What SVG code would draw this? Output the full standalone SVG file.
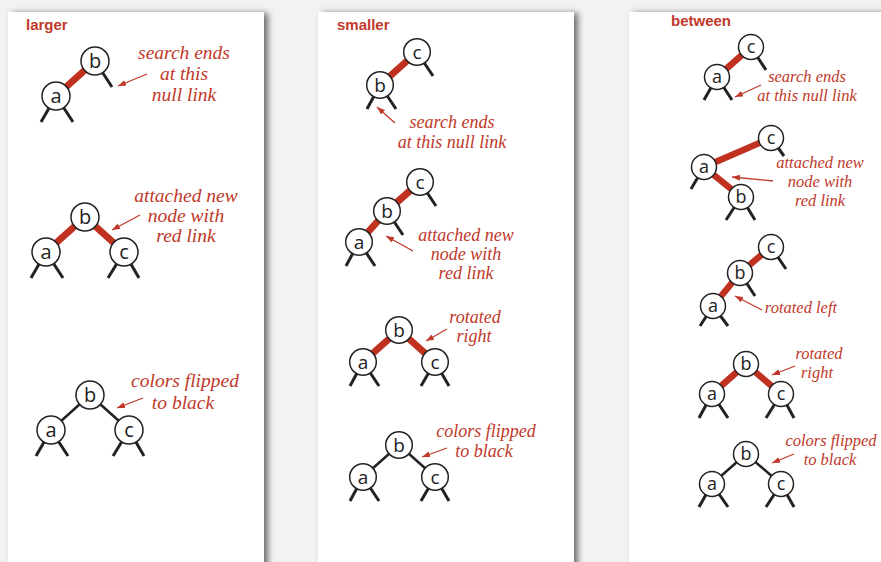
<svg xmlns="http://www.w3.org/2000/svg" width="881" height="562" viewBox="0 0 881 562">
<style>
.pnl{fill:#fff;filter:url(#sh)}
.hdr{font-family:"Liberation Sans",Arial,sans-serif;font-weight:bold;font-size:15px;fill:#c0392b}
.nd circle{fill:#fff;stroke:#222;stroke-width:1.5}
.nd text{font-family:"Open Sans","DejaVu Sans",sans-serif;fill:#222;text-anchor:middle}
.p1 text{font-size:20px}.p2 text{font-size:19px}.p3 text{font-size:18px}
.red{stroke:#c0311f;stroke-width:7}
.red3{stroke:#c0311f;stroke-width:6.5}
.blk{stroke:#222;stroke-width:2.5}
.nul{stroke:#222;stroke-width:3}
.lbl{font-family:"Liberation Serif","Times New Roman",serif;font-style:italic;fill:#c0392b;text-anchor:middle}
.l1{font-size:19.5px}.l2{font-size:18px}.l3{font-size:16.5px}
.arr{stroke:#c0392b;stroke-width:1.3;fill:none;marker-end:url(#ah)}
</style>
<defs>
<filter id="sh" x="-10%" y="-10%" width="130%" height="130%">
<feDropShadow dx="4" dy="1" stdDeviation="3" flood-color="#000" flood-opacity="0.55"/>
</filter>
<marker id="ah" markerUnits="userSpaceOnUse" markerWidth="10" markerHeight="8" refX="8" refY="3" orient="auto">
<path d="M0,0 L8,3 L0,6 z" fill="#c0392b"/>
</marker>
</defs>
<rect x="0" y="0" width="881" height="562" fill="#f2f2f2"/>
<rect class="pnl" x="8" y="12" width="256" height="570"/>
<rect class="pnl" x="318" y="12" width="256" height="570"/>
<rect class="pnl" x="629" y="12" width="270" height="570"/>
<text class="hdr" x="26" y="30">larger</text>
<text class="hdr" x="337" y="30">smaller</text>
<text class="hdr" x="671" y="26">between</text>

<g id="connectors">
<line class="red" x1="56" y1="96" x2="95" y2="61"/>
<line class="nul" x1="56" y1="96" x2="41" y2="122"/>
<line class="nul" x1="56" y1="96" x2="73" y2="122"/>
<line class="nul" x1="95" y1="61" x2="112" y2="87"/>

<line class="red" x1="85" y1="217" x2="46" y2="252"/>
<line class="red" x1="85" y1="217" x2="124" y2="252"/>
<line class="nul" x1="46" y1="252" x2="31" y2="278"/>
<line class="nul" x1="46" y1="252" x2="63" y2="278"/>
<line class="nul" x1="124" y1="252" x2="108" y2="278"/>
<line class="nul" x1="124" y1="252" x2="139" y2="278"/>

<line class="blk" x1="90" y1="395" x2="51" y2="430"/>
<line class="blk" x1="90" y1="395" x2="129" y2="430"/>
<line class="nul" x1="51" y1="430" x2="36" y2="456"/>
<line class="nul" x1="51" y1="430" x2="68" y2="456"/>
<line class="nul" x1="129" y1="430" x2="113" y2="456"/>
<line class="nul" x1="129" y1="430" x2="144" y2="456"/>

<line class="red" x1="417" y1="52" x2="380" y2="85"/>
<line class="nul" x1="417" y1="52" x2="433" y2="76"/>
<line class="nul" x1="380" y1="85" x2="367" y2="109"/>
<line class="nul" x1="380" y1="85" x2="396" y2="109"/>

<line class="red" x1="420" y1="182" x2="387" y2="211"/>
<line class="red" x1="387" y1="211" x2="359" y2="242"/>
<line class="nul" x1="420" y1="182" x2="436" y2="206"/>
<line class="nul" x1="387" y1="211" x2="403" y2="235"/>
<line class="nul" x1="359" y1="242" x2="346" y2="266"/>
<line class="nul" x1="359" y1="242" x2="375" y2="266"/>

<line class="red" x1="399" y1="330" x2="363" y2="362"/>
<line class="red" x1="399" y1="330" x2="435" y2="362"/>
<line class="nul" x1="363" y1="362" x2="350" y2="386"/>
<line class="nul" x1="363" y1="362" x2="379" y2="386"/>
<line class="nul" x1="435" y1="362" x2="421" y2="386"/>
<line class="nul" x1="435" y1="362" x2="449" y2="386"/>

<line class="blk" x1="399" y1="445" x2="363" y2="477"/>
<line class="blk" x1="399" y1="445" x2="435" y2="477"/>
<line class="nul" x1="363" y1="477" x2="350" y2="501"/>
<line class="nul" x1="363" y1="477" x2="379" y2="501"/>
<line class="nul" x1="435" y1="477" x2="421" y2="501"/>
<line class="nul" x1="435" y1="477" x2="449" y2="501"/>

<line class="red3" x1="751" y1="47" x2="717" y2="77"/>
<line class="nul" x1="751" y1="47" x2="766" y2="70"/>
<line class="nul" x1="717" y1="77" x2="704" y2="100"/>
<line class="nul" x1="717" y1="77" x2="732" y2="100"/>

<line class="red3" x1="704" y1="167" x2="771" y2="138"/>
<line class="red3" x1="704" y1="167" x2="741" y2="197"/>
<line class="nul" x1="771" y1="138" x2="784" y2="156"/>
<line class="nul" x1="704" y1="167" x2="691" y2="189"/>
<line class="nul" x1="741" y1="197" x2="726" y2="220"/>
<line class="nul" x1="741" y1="197" x2="755" y2="220"/>

<line class="red3" x1="771" y1="247" x2="740" y2="273"/>
<line class="red3" x1="740" y1="273" x2="713" y2="306"/>
<line class="nul" x1="771" y1="247" x2="786" y2="269"/>
<line class="nul" x1="740" y1="273" x2="755" y2="296"/>
<line class="nul" x1="713" y1="306" x2="700" y2="326"/>
<line class="nul" x1="713" y1="306" x2="728" y2="326"/>

<line class="red3" x1="746" y1="364" x2="712" y2="394"/>
<line class="red3" x1="746" y1="364" x2="781" y2="394"/>
<line class="nul" x1="712" y1="394" x2="699" y2="418"/>
<line class="nul" x1="712" y1="394" x2="728" y2="418"/>
<line class="nul" x1="781" y1="394" x2="766" y2="418"/>
<line class="nul" x1="781" y1="394" x2="794" y2="418"/>

<line class="blk" x1="746" y1="454" x2="712" y2="484"/>
<line class="blk" x1="746" y1="454" x2="781" y2="484"/>
<line class="nul" x1="712" y1="484" x2="699" y2="507"/>
<line class="nul" x1="712" y1="484" x2="728" y2="507"/>
<line class="nul" x1="781" y1="484" x2="766" y2="507"/>
<line class="nul" x1="781" y1="484" x2="794" y2="507"/>
</g>

<g id="p1t1-a" class="nd p1"><circle cx="56" cy="96" r="14"/><text x="56" y="103">a</text></g>
<g id="p1t1-b" class="nd p1"><circle cx="95" cy="61" r="14"/><text x="95" y="68">b</text></g>
<g id="p1t2-b" class="nd p1"><circle cx="85" cy="217" r="14"/><text x="85" y="224">b</text></g>
<g id="p1t2-a" class="nd p1"><circle cx="46" cy="252" r="14"/><text x="46" y="259">a</text></g>
<g id="p1t2-c" class="nd p1"><circle cx="124" cy="252" r="14"/><text x="124" y="259">c</text></g>
<g id="p1t3-b" class="nd p1"><circle cx="90" cy="395" r="14"/><text x="90" y="402">b</text></g>
<g id="p1t3-a" class="nd p1"><circle cx="51" cy="430" r="14"/><text x="51" y="437">a</text></g>
<g id="p1t3-c" class="nd p1"><circle cx="129" cy="430" r="14"/><text x="129" y="437">c</text></g>

<g id="p2t1-c" class="nd p2"><circle cx="417" cy="52" r="13.3"/><text x="417" y="58.5">c</text></g>
<g id="p2t1-b" class="nd p2"><circle cx="380" cy="85" r="13.3"/><text x="380" y="91.5">b</text></g>
<g id="p2t2-c" class="nd p2"><circle cx="420" cy="182" r="13.3"/><text x="420" y="188.5">c</text></g>
<g id="p2t2-b" class="nd p2"><circle cx="387" cy="211" r="13.3"/><text x="387" y="217.5">b</text></g>
<g id="p2t2-a" class="nd p2"><circle cx="359" cy="242" r="13.3"/><text x="359" y="248.5">a</text></g>
<g id="p2t3-b" class="nd p2"><circle cx="399" cy="330" r="13.3"/><text x="399" y="336.5">b</text></g>
<g id="p2t3-a" class="nd p2"><circle cx="363" cy="362" r="13.3"/><text x="363" y="368.5">a</text></g>
<g id="p2t3-c" class="nd p2"><circle cx="435" cy="362" r="13.3"/><text x="435" y="368.5">c</text></g>
<g id="p2t4-b" class="nd p2"><circle cx="399" cy="445" r="13.3"/><text x="399" y="451.5">b</text></g>
<g id="p2t4-a" class="nd p2"><circle cx="363" cy="477" r="13.3"/><text x="363" y="483.5">a</text></g>
<g id="p2t4-c" class="nd p2"><circle cx="435" cy="477" r="13.3"/><text x="435" y="483.5">c</text></g>

<g id="p3t1-c" class="nd p3"><circle cx="751" cy="47" r="12.5"/><text x="751" y="53">c</text></g>
<g id="p3t1-a" class="nd p3"><circle cx="717" cy="77" r="12.5"/><text x="717" y="83">a</text></g>
<g id="p3t2-c" class="nd p3"><circle cx="771" cy="138" r="12.5"/><text x="771" y="144">c</text></g>
<g id="p3t2-a" class="nd p3"><circle cx="704" cy="167" r="12.5"/><text x="704" y="173">a</text></g>
<g id="p3t2-b" class="nd p3"><circle cx="741" cy="197" r="12.5"/><text x="741" y="203">b</text></g>
<g id="p3t3-c" class="nd p3"><circle cx="771" cy="247" r="12.5"/><text x="771" y="253">c</text></g>
<g id="p3t3-b" class="nd p3"><circle cx="740" cy="273" r="12.5"/><text x="740" y="279">b</text></g>
<g id="p3t3-a" class="nd p3"><circle cx="713" cy="306" r="12.5"/><text x="713" y="312">a</text></g>
<g id="p3t4-b" class="nd p3"><circle cx="746" cy="364" r="12.5"/><text x="746" y="370">b</text></g>
<g id="p3t4-a" class="nd p3"><circle cx="712" cy="394" r="12.5"/><text x="712" y="400">a</text></g>
<g id="p3t4-c" class="nd p3"><circle cx="781" cy="394" r="12.5"/><text x="781" y="400">c</text></g>
<g id="p3t5-b" class="nd p3"><circle cx="746" cy="454" r="12.5"/><text x="746" y="460">b</text></g>
<g id="p3t5-a" class="nd p3"><circle cx="712" cy="484" r="12.5"/><text x="712" y="490">a</text></g>
<g id="p3t5-c" class="nd p3"><circle cx="781" cy="484" r="12.5"/><text x="781" y="490">c</text></g>

<g id="annotations">
<line class="arr" x1="147" y1="74" x2="118" y2="86"/>
<text class="lbl l1" x="184" y="59">search ends</text>
<text class="lbl l1" x="184" y="80">at this</text>
<text class="lbl l1" x="184" y="101">null link</text>

<line class="arr" x1="140" y1="215" x2="112" y2="230"/>
<text class="lbl l1" x="186" y="202">attached new</text>
<text class="lbl l1" x="186" y="222">node with</text>
<text class="lbl l1" x="186" y="242">red link</text>

<line class="arr" x1="143" y1="398" x2="117" y2="408"/>
<text class="lbl l1" x="185" y="387">colors flipped</text>
<text class="lbl l1" x="183" y="409">to black</text>

<line class="arr" x1="395" y1="123" x2="377" y2="107"/>
<text class="lbl l2" x="452" y="128">search ends</text>
<text class="lbl l2" x="452" y="148">at this null link</text>

<line class="arr" x1="413" y1="251" x2="386" y2="236"/>
<text class="lbl l2" x="466" y="241">attached new</text>
<text class="lbl l2" x="466" y="260">node with</text>
<text class="lbl l2" x="466" y="279">red link</text>

<line class="arr" x1="447" y1="329" x2="426" y2="341"/>
<text class="lbl l2" x="475" y="323">rotated</text>
<text class="lbl l2" x="474" y="342">right</text>

<line class="arr" x1="447" y1="448" x2="422" y2="457"/>
<text class="lbl l2" x="486" y="437">colors flipped</text>
<text class="lbl l2" x="484" y="457">to black</text>

<line class="arr" x1="761" y1="85" x2="735" y2="97"/>
<text class="lbl l3" x="807" y="82">search ends</text>
<text class="lbl l3" x="807" y="101">at this null link</text>

<line class="arr" x1="773" y1="181" x2="732" y2="177"/>
<text class="lbl l3" x="820" y="168">attached new</text>
<text class="lbl l3" x="820" y="187">node with</text>
<text class="lbl l3" x="820" y="206">red link</text>

<line class="arr" x1="762" y1="310" x2="735" y2="296"/>
<text class="lbl l3" x="801" y="313">rotated left</text>

<line class="arr" x1="795" y1="366" x2="772" y2="375"/>
<text class="lbl l3" x="819" y="359">rotated</text>
<text class="lbl l3" x="817" y="378">right</text>

<line class="arr" x1="794" y1="454" x2="772" y2="463"/>
<text class="lbl l3" x="831" y="446">colors flipped</text>
<text class="lbl l3" x="830" y="465">to black</text>
</g>
</svg>
